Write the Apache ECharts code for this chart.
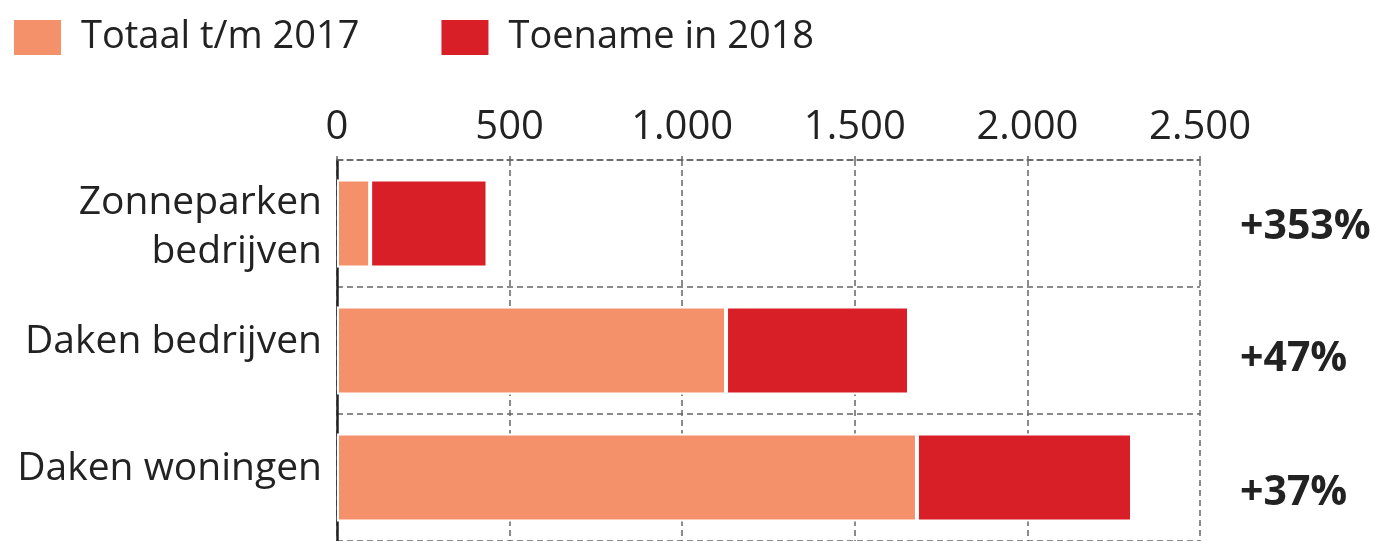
<!DOCTYPE html>
<html>
<head>
<meta charset="utf-8">
<script src="https://cdn.jsdelivr.net/npm/echarts@6/dist/echarts.min.js"></script>
<style>
html,body{margin:0;padding:0;background:#fff;}
#chart{width:1392px;height:541px;}
</style>
</head>
<body>
<div id="chart"></div>
<script>
const categories = ['Zonneparken\nbedrijven', 'Daken bedrijven', 'Daken woningen'];
const totaal2017 = [96, 1127, 1680];
const toename2018 = [340, 530, 623];
const pctLabels = ['+353%', '+47%', '+37%'];
const xTicks = [0, 500, 1000, 1500, 2000, 2500];
const seriesNames = ['Totaal t/m 2017', 'Toename in 2018'];

const FONT = '"Open Sans", "Noto Sans", sans-serif';
const fmt = v => String(v).replace(/\B(?=(\d{3})+(?!\d))/g, '.');

const chart = echarts.init(document.getElementById('chart'), null, {renderer: 'canvas'});
chart.setOption({
  animation: false,
  backgroundColor: '#ffffff',
  textStyle: {fontFamily: FONT},
  legend: {
    data: seriesNames,
    left: 12,
    top: 18,
    padding: 0,
    itemWidth: 49,
    itemHeight: 37,
    itemGap: 80,
    icon: 'rect',
    textStyle: {fontSize: 38, color: '#222', fontFamily: FONT, padding: [0, 0, 0, 14]}
  },
  grid: {left: 337, right: 192, top: 160, height: 383, containLabel: false},
  xAxis: {
    type: 'value',
    position: 'top',
    min: xTicks[0],
    max: xTicks[xTicks.length - 1],
    interval: 500,
    axisLine: {show: true, lineStyle: {color: '#666', type: [6, 4], width: 1.5}},
    axisTick: {show: true, length: 7, lineStyle: {color: '#666', type: [4, 3], width: 1.5}},
    axisLabel: {fontSize: 40, color: '#222', margin: 12, fontFamily: FONT, formatter: fmt},
    splitLine: {show: true, lineStyle: {color: '#666', type: [6, 4], width: 1.5}}
  },
  yAxis: [{
    type: 'category',
    data: categories,
    inverse: true,
    axisLine: {show: true, onZero: false, lineStyle: {color: '#222', width: 2.5}},
    axisTick: {show: false},
    splitLine: {show: true, lineStyle: {color: '#666', type: [6, 4], width: 1.5}},
    axisLabel: {
      fontSize: 39, color: '#222', margin: 15, fontFamily: FONT, lineHeight: 49,
      formatter: (v, i) => v.split('\n').map(s => '{c' + i + '|' + s + '}').join('\n'),
      rich: {
        c0: {fontSize: 39, color: '#222', fontFamily: FONT, lineHeight: 49, padding: [8, 0, 0, 0]},
        c1: {fontSize: 39, color: '#222', fontFamily: FONT, lineHeight: 49, padding: [0, 0, 18, 0]},
        c2: {fontSize: 39, color: '#222', fontFamily: FONT, lineHeight: 49, padding: [0, 0, 18, 0]}
      }
    }
  }, {
    type: 'category',
    data: pctLabels,
    inverse: true,
    position: 'right',
    axisLine: {show: false},
    axisTick: {show: false},
    splitLine: {show: false},
    axisLabel: {
      margin: 40, align: 'left',
      formatter: (v, i) => '{p' + i + '|' + v + '}',
      rich: {
        p0: {fontSize: 41, fontWeight: 'bold', color: '#222', fontFamily: FONT, padding: [8, 0, 0, 0]},
        p1: {fontSize: 41, fontWeight: 'bold', color: '#222', fontFamily: FONT, padding: [18, 0, 0, 0]},
        p2: {fontSize: 41, fontWeight: 'bold', color: '#222', fontFamily: FONT, padding: [32, 0, 0, 0]}
      }
    }
  }],
  series: [{
    name: seriesNames[0],
    type: 'bar',
    stack: 'total',
    barWidth: 88,
    data: totaal2017,
    itemStyle: {color: '#F4906A', borderColor: '#fff', borderWidth: 2}
  }, {
    name: seriesNames[1],
    type: 'bar',
    stack: 'total',
    barWidth: 88,
    data: toename2018,
    itemStyle: {color: '#D81F27', borderColor: '#fff', borderWidth: 2}
  }]
});
</script>
</body>
</html>
